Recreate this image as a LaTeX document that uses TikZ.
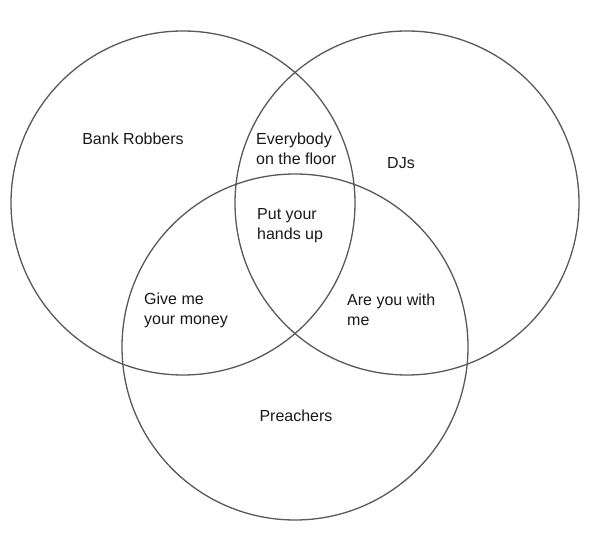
\documentclass[tikz,border=0pt]{standalone}
\usepackage{fontspec}
\setmainfont{Liberation Sans}
\begin{document}
\begin{tikzpicture}[x=1pt,y=-1pt,
  venn/.style={draw=black!65,line width=1.3pt},
  lbl/.style={inner sep=0pt,font=\fontsize{16}{20}\selectfont,text=black!90},
  lblL/.style={lbl,align=left,anchor=west}]
\useasboundingbox (0,0) rectangle (610,534);
\fill[white] (0,0) rectangle (610,534);
\draw[venn] (183,203) circle[radius=172] coordinate (cL);
\draw[venn] (407,203) circle[radius=172] coordinate (cR);
\draw[venn] (295,347) circle[radius=173] coordinate (cB);
\node[lbl] (bank) at (133,139) {Bank Robbers};
\node[lbl] (djs) at (401,163) {DJs};
\node[lbl] (preach) at (296,416) {Preachers};
\node[lblL] (floor) at (256,149) {Everybody\\on the floor};
\node[lblL] (hands) at (257,226) {Put your\\hands up};
\node[lblL] (money) at (144,310) {Give me\\your money};
\node[lblL] (withme) at (347,310) {Are you with\\me};
\end{tikzpicture}
\end{document}
